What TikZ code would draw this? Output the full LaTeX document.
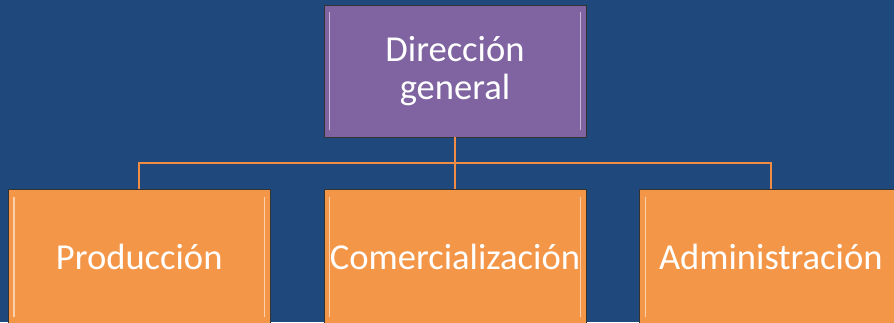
\documentclass[tikz,border=0pt]{standalone}
\usepackage{fontspec}
\setmainfont{Carlito}
\usetikzlibrary{positioning,calc}
\definecolor{bgc}{RGB}{31, 73, 125}
\definecolor{dirc}{RGB}{128, 100, 162}
\definecolor{depc}{RGB}{244, 150, 72}
\definecolor{linec}{RGB}{240, 140, 70}
\tikzset{
	unit/.style={
		rectangle, minimum width=6.55cm, minimum height=3.3cm, inner sep=0pt,
		draw=black!80, thin, text=white, align=center,
		font=\fontsize{26}{27}\selectfont,
		path picture={
			\draw[white, opacity=0.55, line width=1.2pt]
				([xshift=4pt,yshift=-5pt]path picture bounding box.north west) -- ([xshift=4pt,yshift=5pt]path picture bounding box.south west)
				([xshift=-4pt,yshift=-5pt]path picture bounding box.north east) -- ([xshift=-4pt,yshift=5pt]path picture bounding box.south east);
		}
	},
	%
	head/.style={
		unit, fill=dirc
	},
	%
	dept/.style={
		unit, fill=depc, minimum height=3.35cm
	},
	%
	link/.style={
		draw=linec, line width=1.5pt
	}
}

\begin{document}
\begin{tikzpicture}
\useasboundingbox[fill=bgc] (-11.375,1.775) rectangle (10.975,-6.275);

\node(dir)[head]{Dirección\\general};

\node(com)[dept, below=1.3cm of dir]{Comercialización};
\node(prod)[dept, left=1.33cm of com]{Producción};
\node(adm)[dept, right=1.33cm of com]{Administración};

\coordinate (bus) at ($(dir.south)!0.5!(com.north)$);
\draw[link] (dir) -- (com);
\draw[link] (prod.north) |- (bus) -| (adm.north);
\end{tikzpicture}
\end{document}
